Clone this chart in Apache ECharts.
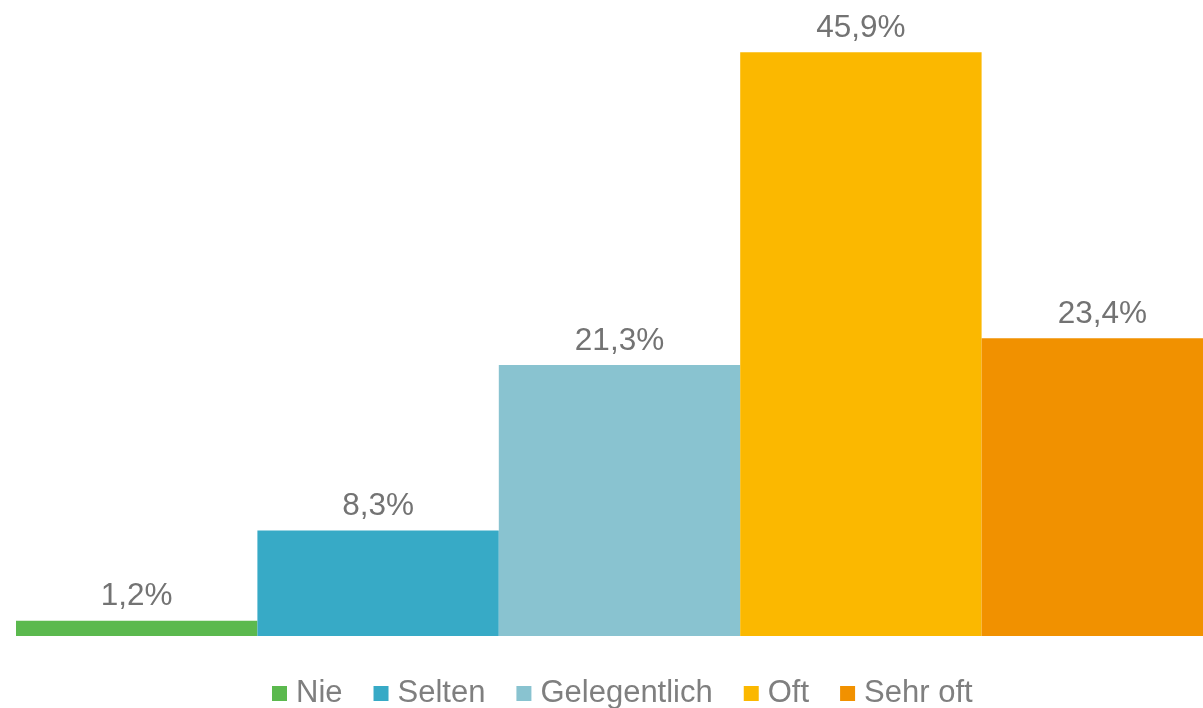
<!DOCTYPE html>
<head>
  <meta charset="utf-8">
  <title>Häufigkeit</title>
  <script src="https://cdn.jsdelivr.net/npm/echarts@6/dist/echarts.min.js"></script>
  <style>
    html, body { margin: 0; padding: 0; background: #fff; overflow: hidden; }
  </style>
</head>
<body>
  <!-- a bit wider than the window: last bar runs past the right edge, like in the original -->
  <div id="main" style="width: 1223px;height:708px;"></div>
  <script>
    // answer categories and shares in percent
    var categories = ['Nie', 'Selten', 'Gelegentlich', 'Oft', 'Sehr oft'];
    var shares = [1.2, 8.3, 21.3, 45.9, 23.4];
    var colors = ['#5bb94e', '#37aac6', '#89c3d0', '#fbb800', '#f19100'];

    var myChart = echarts.init(document.getElementById('main'));

    var series = categories.map(function (name, i) {
      return {
        name: name,
        type: 'bar',
        barGap: '0%',
        barCategoryGap: '0%',
        itemStyle: { color: colors[i] },
        label: {
          show: true,
          position: 'top',
          distance: 8,
          color: '#737373',
          fontFamily: 'Liberation Sans, Arial, sans-serif',
          fontSize: 31.5,
          formatter: function (p) {
            return p.value.toFixed(1).replace('.', ',') + '%';
          }
        },
        data: [shares[i]]
      };
    });

    var option = {
      animation: false,
      grid: { left: 16, right: 0, top: 0, bottom: 72 },
      legend: {
        left: 267,
        top: 673,
        data: categories,
        icon: 'rect',
        itemWidth: 15,
        itemHeight: 15,
        itemGap: 31,
        textStyle: {
          color: '#7f7f7f',
          fontFamily: 'Liberation Sans, Arial, sans-serif',
          fontSize: 31,
          padding: [0, 0, 0, 4]
        }
      },
      xAxis: {
        type: 'category',
        data: [''],
        axisLine: { show: false },
        axisTick: { show: false },
        axisLabel: { show: false }
      },
      yAxis: {
        type: 'value',
        min: 0,
        max: 50,
        show: false,
        splitLine: { show: false }
      },
      series: series
    };

    myChart.setOption(option);
  </script>
</body>
